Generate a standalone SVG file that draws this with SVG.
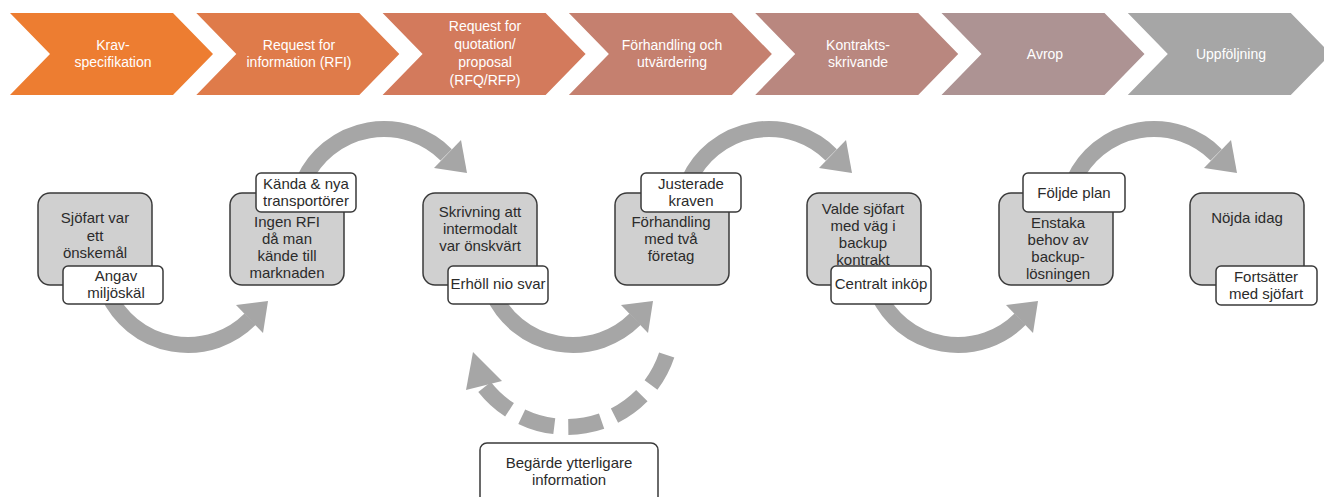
<svg xmlns="http://www.w3.org/2000/svg" width="1324" height="497" viewBox="0 0 1324 497">
<defs>
<style>
.chev-t{font-family:"Liberation Sans",Arial,sans-serif;font-size:14px;fill:#FFFFFF;text-anchor:middle}
.t{font-family:"Liberation Sans",Arial,sans-serif;font-size:15px;fill:#2B2B2B;text-anchor:middle}
.gbox{fill:#D0D0D0;stroke:#3A3A3A;stroke-width:1.5}
.wbox{fill:#FFFFFF;stroke:#3A3A3A;stroke-width:1.5}
.arc{fill:none;stroke:#A6A6A6;stroke-width:16;stroke-linecap:butt}
.head{fill:#A6A6A6}
</style>
</defs>
<rect width="1324" height="497" fill="#FFFFFF"/>

<g id="header">
<g id="chev1"><polygon points="10,13 173,13 213,54 173,95 10,95 50,54" fill="#ED7D31"/>
<text class="chev-t" x="113" y="49.5">Krav-</text><text class="chev-t" x="113" y="67">specifikation</text></g>
<g id="chev2"><polygon points="196.3,13 359.3,13 399.3,54 359.3,95 196.3,95 236.3,54" fill="#DF7B4A"/>
<text class="chev-t" x="299" y="49.5">Request for</text><text class="chev-t" x="299" y="67">information (RFI)</text></g>
<g id="chev3"><polygon points="382.6,13 545.6,13 585.6,54 545.6,95 382.6,95 422.6,54" fill="#D37A5C"/>
<text class="chev-t" x="485" y="31">Request for</text><text class="chev-t" x="485" y="49">quotation/</text><text class="chev-t" x="485" y="67">proposal</text><text class="chev-t" x="485" y="85">(RFQ/RFP)</text></g>
<g id="chev4"><polygon points="568.9,13 731.9,13 771.9,54 731.9,95 568.9,95 608.9,54" fill="#C5806F"/>
<text class="chev-t" x="672" y="49.5">Förhandling och</text><text class="chev-t" x="672" y="67">utvärdering</text></g>
<g id="chev5"><polygon points="755.2,13 918.2,13 958.2,54 918.2,95 755.2,95 795.2,54" fill="#B9877F"/>
<text class="chev-t" x="858" y="49.5">Kontrakts-</text><text class="chev-t" x="858" y="67">skrivande</text></g>
<g id="chev6"><polygon points="941.5,13 1104.5,13 1144.5,54 1104.5,95 941.5,95 981.5,54" fill="#AD9393"/>
<text class="chev-t" x="1045" y="59">Avrop</text></g>
<g id="chev7"><polygon points="1127.8,13 1290.8,13 1330.8,54 1290.8,95 1127.8,95 1167.8,54" fill="#A6A6A6"/>
<text class="chev-t" x="1231" y="59">Uppföljning</text></g>
</g>

<g id="connectors">
<!-- bottom arcs: center (cx,257) r 88, from 155deg to 45deg -->
<path class="arc" d="M 108.2 294.2 A 88 88 0 0 0 250.2 319.2"/>
<polygon class="head" points="236,305 263,333 268,301"/>
<path class="arc" d="M 493.2 294.2 A 88 88 0 0 0 635.2 319.2"/>
<polygon class="head" points="621,305 648,333 653,301"/>
<path class="arc" d="M 878.2 294.2 A 88 88 0 0 0 1020.2 319.2"/>
<polygon class="head" points="1006,305 1033,333 1038,301"/>
<!-- top arcs: center (cx,217) r 88, from 205deg to 315deg -->
<path class="arc" d="M 304.2 179.8 A 88 88 0 0 1 446.2 154.8"/>
<polygon class="head" points="434,168 461,140 467,173"/>
<path class="arc" d="M 689.2 179.8 A 88 88 0 0 1 831.2 154.8"/>
<polygon class="head" points="819,168 846,140 852,173"/>
<path class="arc" d="M 1074.2 179.8 A 88 88 0 0 1 1216.2 154.8"/>
<polygon class="head" points="1204,168 1231,140 1237,173"/>
<!-- dashed feedback loop -->
<path class="arc" stroke-width="15" stroke-dasharray="34 14" d="M 666.7 355 A 105 105 0 0 1 484.3 386.6"/>
<polygon class="head" points="473,352 466,390 502,381"/>
</g>

<g id="n1">
<rect class="gbox" x="38" y="193" width="114" height="92" rx="12"/>
<text class="t" x="95" y="223">Sjöfart var</text><text class="t" x="95" y="240.5">ett</text><text class="t" x="95" y="258">önskemål</text>
</g>
<g id="n1b">
<rect class="wbox" x="63" y="266" width="100" height="38" rx="5"/>
<text class="t" x="116" y="281">Angav</text><text class="t" x="116" y="298">miljöskäl</text>
</g>

<g id="n2">
<rect class="gbox" x="230" y="193" width="114" height="92" rx="12"/>
<text class="t" x="287" y="227">Ingen RFI</text><text class="t" x="287" y="244">då man</text><text class="t" x="287" y="261">kände till</text><text class="t" x="287" y="278">marknaden</text>
</g>
<g id="n2b">
<rect class="wbox" x="256" y="173" width="100" height="39" rx="5"/>
<text class="t" x="306" y="189">Kända &amp; nya</text><text class="t" x="306" y="206">transportörer</text>
</g>

<g id="n3">
<rect class="gbox" x="423" y="193" width="114" height="92" rx="12"/>
<text class="t" x="480" y="217">Skrivning att</text><text class="t" x="480" y="234">intermodalt</text><text class="t" x="480" y="251">var önskvärt</text>
</g>
<g id="n3b">
<rect class="wbox" x="448" y="266" width="100" height="38" rx="5"/>
<text class="t" x="498" y="289">Erhöll nio svar</text>
</g>

<g id="n4">
<rect class="gbox" x="615" y="193" width="114" height="92" rx="12"/>
<text class="t" x="671" y="227">Förhandling</text><text class="t" x="671" y="244">med två</text><text class="t" x="671" y="261">företag</text>
</g>
<g id="n4b">
<rect class="wbox" x="641" y="173" width="100" height="39" rx="5"/>
<text class="t" x="691" y="189">Justerade</text><text class="t" x="691" y="206">kraven</text>
</g>

<g id="n5">
<rect class="gbox" x="807" y="193" width="114" height="92" rx="12"/>
<text class="t" x="863" y="214">Valde sjöfart</text><text class="t" x="863" y="231">med väg i</text><text class="t" x="863" y="248">backup</text><text class="t" x="863" y="265">kontrakt</text>
</g>
<g id="n5b">
<rect class="wbox" x="831" y="266" width="100" height="38" rx="5"/>
<text class="t" x="881" y="289">Centralt inköp</text>
</g>

<g id="n6">
<rect class="gbox" x="999" y="193" width="114" height="92" rx="12"/>
<text class="t" x="1058" y="228">Enstaka</text><text class="t" x="1058" y="245">behov av</text><text class="t" x="1058" y="262">backup-</text><text class="t" x="1058" y="279">lösningen</text>
</g>
<g id="n6b">
<rect class="wbox" x="1023" y="173" width="102" height="39" rx="5"/>
<text class="t" x="1074" y="198">Följde plan</text>
</g>

<g id="n7">
<rect class="gbox" x="1190" y="193" width="114" height="92" rx="12"/>
<text class="t" x="1247" y="223">Nöjda idag</text>
</g>
<g id="n7b">
<rect class="wbox" x="1216" y="266" width="101" height="39" rx="5"/>
<text class="t" x="1266" y="282">Fortsätter</text><text class="t" x="1266" y="299">med sjöfart</text>
</g>

<g id="n8">
<rect class="wbox" x="480" y="443" width="178" height="64" rx="7"/>
<text class="t" x="569" y="468">Begärde ytterligare</text><text class="t" x="569" y="485">information</text>
</g>
</svg>
